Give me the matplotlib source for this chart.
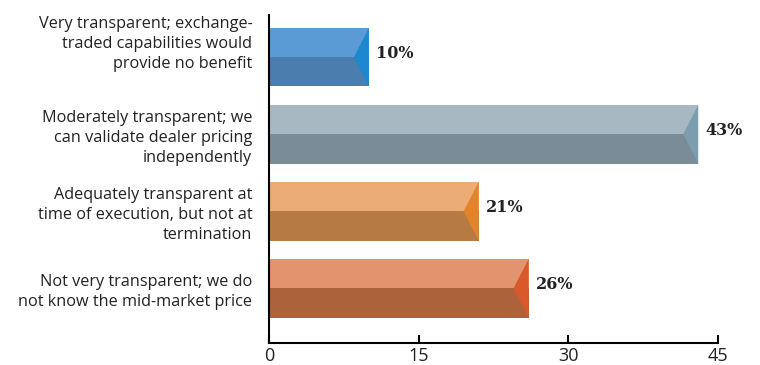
#!/usr/bin/python

"""
Horizontal bar chart of perceived pricing transparency, bars with a notched end.
"""

import matplotlib
matplotlib.use('Agg')
import matplotlib.pyplot as plt
import matplotlib.transforms as mtransforms
from matplotlib.patches import Polygon

# data
CATEGORIES = ['Very transparent; exchange-\ntraded capabilities would\nprovide no benefit',
              'Moderately transparent; we\ncan validate dealer pricing\nindependently',
              'Adequately transparent at\ntime of execution, but not at\ntermination',
              'Not very transparent; we do\nnot know the mid-market price']
VALUES = [10, 43, 21, 26]
XTICKS = [0, 15, 30, 45]

# colours: light top half, dark bottom half, notch
TOP_COLORS = ['#5b9bd5', '#a7b8c2', '#ecac75', '#e2946e']
BOTTOM_COLORS = ['#4b7dad', '#7a8c97', '#b57b43', '#ac633c']
NOTCH_COLORS = ['#1d88cf', '#7b9dad', '#e3842b', '#d9592b']

BAR_HEIGHT = 0.76
NOTCH = 1.5


def main():
    fig = plt.figure(figsize=(7.6, 3.65), dpi=100)
    ax = fig.add_axes([0.354, 0.0603, 0.591, 0.899])

    ys = list(range(len(VALUES)))
    half = BAR_HEIGHT / 2

    # top and bottom halves
    ax.barh([y - half / 2 for y in ys], VALUES, height=half, color=TOP_COLORS, linewidth=0)
    ax.barh([y + half / 2 for y in ys], VALUES, height=half, color=BOTTOM_COLORS, linewidth=0)

    # notch triangles at the end of each bar
    for y, v, c in zip(ys, VALUES, NOTCH_COLORS):
        tri = Polygon([(v, y - half), (v - NOTCH, y), (v, y + half)], closed=True,
                      facecolor=c, edgecolor='none')
        ax.add_patch(tri)
        ax.text(v + 0.7, y - 0.05, '{}%'.format(v), va='center', ha='left',
                fontsize=11.5, fontweight='bold', family='DejaVu Serif', color='#222222')

    ax.set_xlim(0, 45)
    ax.set_ylim(3.71, -0.55)
    ax.set_xticks(XTICKS)
    ax.set_yticks(ys)
    ax.set_yticklabels(CATEGORIES, family='Open Sans', fontsize=11.7, color='#222222',
                       linespacing=1.3)
    ax.tick_params(axis='y', length=0, pad=12)
    ax.tick_params(axis='x', direction='in', length=6, width=1.5, labelsize=13, pad=3,
                   labelcolor='#222222')
    for lbl in ax.get_xticklabels():
        lbl.set_family('Open Sans')

    # first label sits higher than its bar in the original
    first = ax.get_yticklabels()[0]
    first.set_transform(first.get_transform() +
                        mtransforms.ScaledTranslation(0, 0.17, fig.dpi_scale_trans))

    for side in ['top', 'right']:
        ax.spines[side].set_visible(False)
    ax.spines['left'].set_linewidth(1.5)
    ax.spines['bottom'].set_linewidth(1.5)

    plt.savefig('out.png', dpi=100)


if __name__ == "__main__":
    main()
